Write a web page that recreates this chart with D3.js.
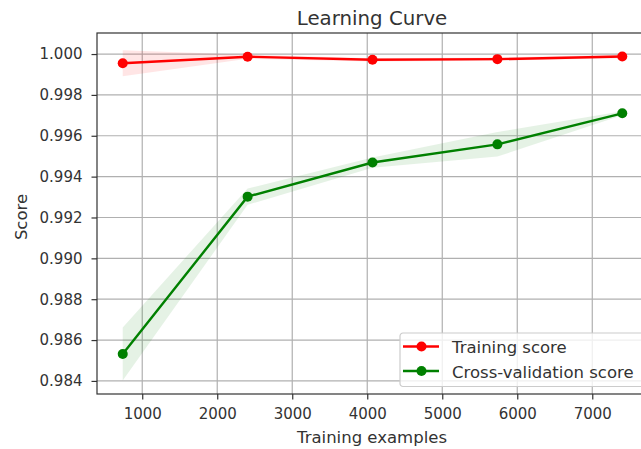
<!DOCTYPE html>
<html>
<head>
<meta charset="utf-8">
<script src="https://cdn.jsdelivr.net/npm/d3@7"></script>
<style>
  html, body { margin: 0; padding: 0; background: #fff; }
  svg { display: block; font-family: "DejaVu Sans", sans-serif; }
</style>
</head>
<body>
<svg id="chart" width="641" height="449"></svg>
<script>
// Learning curve: training vs cross-validation score
const trainSizes = [740, 2405, 4070, 5735, 7400];
const trainMean  = [0.99955, 0.99987, 0.99972, 0.99975, 0.99988];
const trainStd   = [0.00064, 0.00010, 0.00008, 0.00008, 0.00008];
const cvMean     = [0.98532, 0.99302, 0.99469, 0.99558, 0.99710];
const cvStd      = [0.00130, 0.00040, 0.00025, 0.00060, 0.00010];
const xTicks = [1000, 2000, 3000, 4000, 5000, 6000, 7000];
const yTicks = [0.984, 0.986, 0.988, 0.990, 0.992, 0.994, 0.996, 0.998, 1.000];

const svg = d3.select("#chart");
const plot = { left: 97, top: 33, right: 648, bottom: 394 };
const textColor = "#333333";

const x = d3.scaleLinear().domain([397, 7743]).range([plot.left, plot.right]);
const y = d3.scaleLinear().domain([0.98336, 1.00103]).range([plot.bottom, plot.top]);

// grid
const grid = svg.append("g");
grid.selectAll("line.vx").data(xTicks).join("line")
  .attr("x1", d => x(d)).attr("x2", d => x(d))
  .attr("y1", plot.top).attr("y2", plot.bottom)
  .attr("stroke", "#b0b0b0").attr("stroke-width", 1.2);
grid.selectAll("line.hy").data(yTicks).join("line")
  .attr("x1", plot.left).attr("x2", plot.right)
  .attr("y1", d => y(d)).attr("y2", d => y(d))
  .attr("stroke", "#b0b0b0").attr("stroke-width", 1.2);

// bands (mean ± std)
const area = (mean, std) => d3.area()
  .x((d, i) => x(trainSizes[i]))
  .y0((d, i) => y(mean[i] - std[i]))
  .y1((d, i) => y(mean[i] + std[i]));
svg.append("path").datum(trainMean).attr("d", area(trainMean, trainStd))
  .attr("fill", "#ff0000").attr("fill-opacity", 0.1);
svg.append("path").datum(cvMean).attr("d", area(cvMean, cvStd))
  .attr("fill", "#008000").attr("fill-opacity", 0.1);

// lines + markers
const line = d3.line().x((d, i) => x(trainSizes[i])).y(d => y(d));
function series(vals, color) {
  svg.append("path").datum(vals).attr("d", line)
    .attr("fill", "none").attr("stroke", color).attr("stroke-width", 2.4);
  svg.append("g").selectAll("circle").data(vals).join("circle")
    .attr("cx", (d, i) => x(trainSizes[i])).attr("cy", d => y(d))
    .attr("r", 5).attr("fill", color);
}
series(trainMean, "#ff0000");
series(cvMean, "#008000");

// axes
const xAxis = d3.axisBottom(x).tickValues(xTicks).tickFormat(d3.format("d"))
  .tickSizeOuter(0).tickSize(5.5).tickPadding(9);
const yAxis = d3.axisLeft(y).tickValues(yTicks).tickFormat(d3.format(".3f"))
  .tickSizeOuter(0).tickSize(5.5).tickPadding(9);
const gx = svg.append("g").attr("transform", `translate(0,${plot.bottom})`).call(xAxis);
const gy = svg.append("g").attr("transform", `translate(${plot.left},0)`).call(yAxis);
[gx, gy].forEach(g => {
  g.select(".domain").remove();
  g.selectAll(".tick line").attr("stroke", textColor).attr("stroke-width", 1.2);
  g.selectAll(".tick text").attr("fill", textColor).attr("font-size", 15)
    .attr("font-family", "DejaVu Sans");
});

// spines
svg.append("rect").attr("x", plot.left).attr("y", plot.top)
  .attr("width", plot.right - plot.left).attr("height", plot.bottom - plot.top)
  .attr("fill", "none").attr("stroke", textColor).attr("stroke-width", 1.2);

// labels
svg.append("text").attr("x", 372).attr("y", 25)
  .attr("text-anchor", "middle").attr("font-size", 19.8).attr("fill", textColor)
  .text("Learning Curve");
svg.append("text").attr("x", 372).attr("y", 443)
  .attr("text-anchor", "middle").attr("font-size", 16.5).attr("fill", textColor)
  .text("Training examples");
svg.append("text").attr("transform", `translate(27,217) rotate(-90)`)
  .attr("text-anchor", "middle").attr("font-size", 16.5).attr("fill", textColor)
  .text("Score");

// legend
const legendItems = [
  { label: "Training score", color: "#ff0000" },
  { label: "Cross-validation score", color: "#008000" }
];
const lg = svg.append("g").attr("transform", "translate(400,333)");
lg.append("rect").attr("width", 250).attr("height", 53.5).attr("rx", 3)
  .attr("fill", "#fff").attr("fill-opacity", 0.8)
  .attr("stroke", "#cccccc").attr("stroke-width", 1.2);
legendItems.forEach((it, i) => {
  const cy = 13.5 + i * 24.5;
  lg.append("line").attr("x1", 3).attr("x2", 39).attr("y1", cy).attr("y2", cy)
    .attr("stroke", it.color).attr("stroke-width", 2.4);
  lg.append("circle").attr("cx", 21.5).attr("cy", cy).attr("r", 5).attr("fill", it.color);
  lg.append("text").attr("x", 52).attr("y", cy + 6.5).attr("font-size", 16.5)
    .attr("fill", textColor).text(it.label);
});
</script>
</body>
</html>
